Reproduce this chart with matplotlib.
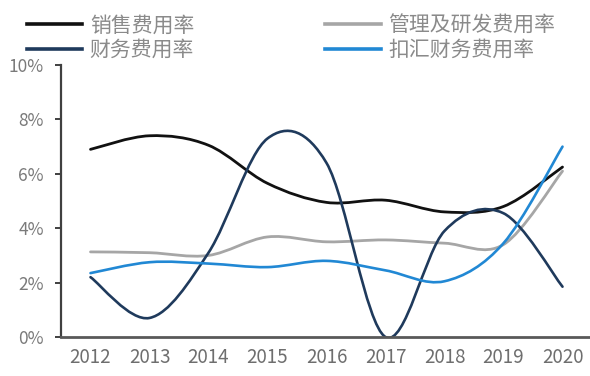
import numpy as np
import matplotlib.pyplot as plt
from matplotlib.path import Path
from matplotlib.patches import PathPatch
from matplotlib.lines import Line2D

plt.rcParams['font.family'] = ['Noto Sans CJK SC', 'DejaVu Sans']

# 费用率数据 (%)
years = [2012, 2013, 2014, 2015, 2016, 2017, 2018, 2019, 2020]
sales_rate = [6.9, 7.4, 7.05, 5.65, 4.95, 5.03, 4.6, 4.8, 6.25]
admin_rd_rate = [3.13, 3.1, 3.0, 3.68, 3.5, 3.57, 3.45, 3.4, 6.1]
finance_rate = [2.2, 0.7, 3.1, 7.3, 6.4, 0.0, 3.9, 4.55, 1.85]
finance_ex_fx_rate = [2.35, 2.75, 2.7, 2.57, 2.8, 2.45, 2.05, 3.45, 7.0]

labels = ['销售费用率', '管理及研发费用率', '财务费用率', '扣汇财务费用率']
colors = ['#111111', '#a6a6a6', '#1f3a5c', '#2188d4']


def smooth_path(x, y):
    # Excel 风格平滑线：相邻点之间用三次贝塞尔曲线连接
    x = np.asarray(x, float)
    y = np.asarray(y, float)
    p = np.column_stack([x, y])
    n = len(p)
    verts = [tuple(p[0])]
    codes = [Path.MOVETO]
    for i in range(n - 1):
        p_prev = p[i - 1] if i > 0 else p[i]
        p_next2 = p[i + 2] if i + 2 < n else p[i + 1]
        c1 = p[i] + (p[i + 1] - p_prev) / 6
        c2 = p[i + 1] - (p_next2 - p[i]) / 6
        verts += [tuple(c1), tuple(c2), tuple(p[i + 1])]
        codes += [Path.CURVE4] * 3
    return Path(verts, codes)


fig = plt.figure(figsize=(5.9, 3.76), dpi=100)
ax = fig.add_axes([0.1034, 0.1037, 0.9, 0.7233])

series = [sales_rate, admin_rd_rate, finance_rate, finance_ex_fx_rate]
widths = [2.0, 2.0, 1.9, 1.9]
handles = []
for vals, c, lw, lab in zip(series, colors, widths, labels):
    ax.add_patch(PathPatch(smooth_path(years, vals), facecolor='none',
                           edgecolor=c, lw=lw, capstyle='round'))
    handles.append(Line2D([], [], color=c, lw=2.6, label=lab))

ax.set_xlim(2011.5, 2020.5)
ax.set_ylim(0, 10)
ax.set_xticks(years)
ax.set_xticklabels([str(y) for y in years])
ax.set_yticks(range(0, 11, 2))
ax.set_yticklabels([f'{v}%' for v in range(0, 11, 2)])

for s in ['top', 'right']:
    ax.spines[s].set_visible(False)
ax.spines['left'].set_color('#404040')
ax.spines['left'].set_linewidth(1.6)
ax.spines['bottom'].set_color('#595959')
ax.spines['bottom'].set_linewidth(2.0)

ax.tick_params(axis='y', length=4.5, width=1.4, color='#404040', pad=8,
               labelsize=12.5, labelcolor='#7a7a7a')
ax.tick_params(axis='x', length=0, pad=7, labelsize=13.5, labelcolor='#6e6e6e')

# 两列图例 (左列: 销售/财务, 右列: 管理及研发/扣汇财务)
order = [0, 2, 1, 3]
fig.legend([handles[i] for i in order], [labels[i] for i in order],
           loc='upper left', bbox_to_anchor=(0.018, 1.005), ncol=2,
           frameon=False, fontsize=15, handlelength=2.65, handletextpad=0.35,
           columnspacing=6.3, labelspacing=0.1, borderpad=0.3,
           labelcolor='#8a8a8a')

fig.savefig('out.png', dpi=100)
